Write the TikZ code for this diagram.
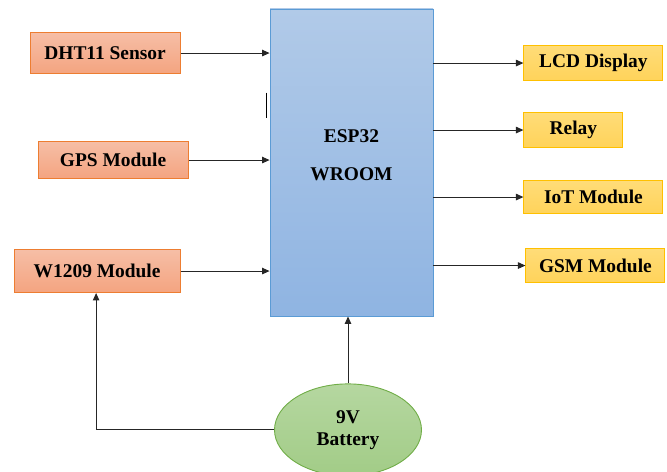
\documentclass[tikz,border=0pt]{standalone}
\usepackage{fontspec}
\setmainfont{Liberation Serif}
\usepackage{tikz}
\usetikzlibrary{arrows.meta,positioning,calc,shapes.geometric}
\usepackage{xcolor}
\definecolor{sensororange}{HTML}{ED7D31}
\definecolor{sensortop}{HTML}{F6BEA6}
\definecolor{sensorbot}{HTML}{F4A480}
\definecolor{outgold}{HTML}{FFC000}
\definecolor{outtop}{HTML}{FFDC78}
\definecolor{outbot}{HTML}{FFD35A}
\definecolor{espblue}{HTML}{5B9BD5}
\definecolor{esptop}{HTML}{B1CAE8}
\definecolor{espbot}{HTML}{8FB4E2}
\definecolor{battgreen}{HTML}{70AD47}
\definecolor{batttop}{HTML}{B5D7A0}
\definecolor{battbot}{HTML}{A2CC87}

\begin{document}
\begin{tikzpicture}[
  x=1bp, y=-1bp,
  inblock/.style={draw=sensororange, rectangle, top color=sensortop, bottom color=sensorbot,
                  minimum width=150bp, inner sep=0pt, line width=0.9bp,
                  font=\fontsize{19.5}{22}\selectfont\bfseries},
  outblock/.style={draw=outgold, rectangle, top color=outtop, bottom color=outbot,
                   minimum width=139bp, minimum height=35bp, inner sep=0pt, line width=0.9bp,
                   font=\fontsize{19.5}{22}\selectfont\bfseries},
  arr/.style={-{Triangle[length=7.5bp,width=6.5bp]}, line width=1bp, black!85},
  node distance=89bp
]
  \useasboundingbox (0,0) rectangle (667,472);

  %% Controller
  \node[draw=espblue, rectangle, top color=esptop, bottom color=espbot, line width=0.9bp,
        minimum width=163bp, minimum height=307bp, inner sep=0pt] (esp) at (351.5,162.5) {};
  \node[font=\fontsize{19.5}{22}\selectfont\bfseries, align=center] (esptext)
    at ($(esp.center)+(0,-7)$) {ESP32\\[16bp]WROOM};
  \draw[line width=1bp] ($(esp.north west)+(-3,84)$) -- ++(0,25);

  %% Inputs
  \node[inblock, minimum height=41bp, left=89bp of {$(esp.north west)+(0,44.5)$}] (dht)
    {DHT11 Sensor};
  \node[inblock, minimum height=37bp, left=81bp of {$(esp.north west)+(0,151.5)$}] (gps)
    {GPS Module};
  \node[inblock, minimum width=166bp, minimum height=43bp,
        left=89bp of {$(esp.north west)+(0,262.5)$}] (w1209)
    {W1209 Module};

  %% Outputs
  \node[outblock, right=90bp of {$(esp.north east)+(0,54.5)$}] (lcd) {LCD Display};
  \node[outblock, minimum width=99bp, right=90bp of {$(esp.north east)+(0,121.5)$}] (relay) {Relay};
  \node[outblock, minimum height=33bp, right=90bp of {$(esp.north east)+(0,188.5)$}] (iot) {IoT Module};
  \node[outblock, minimum height=34bp, right=92bp of {$(esp.north east)+(0,257)$}] (gsm) {GSM Module};

  %% Supply
  \node[draw=battgreen, ellipse, top color=batttop, bottom color=battbot, line width=0.9bp,
        minimum width=147bp, minimum height=92bp, inner sep=0pt, align=center,
        font=\fontsize{19.5}{22}\selectfont\bfseries,
        below=67bp of {$(esp.south)+(-3.5,0)$}] (batt)
    {9V\\Battery};

  %% Arrows
  \draw[arr] (dht) -- (dht -| esp.west);
  \draw[arr] (gps) -- (gps -| esp.west);
  \draw[arr] (w1209) -- (w1209 -| esp.west);
  \draw[arr] (lcd -| esp.east) -- (lcd);
  \draw[arr] (relay -| esp.east) -- (relay);
  \draw[arr] (iot -| esp.east) -- (iot);
  \draw[arr] (gsm -| esp.east) -- (gsm);
  \draw[arr] (batt.north) -- (batt.north |- esp.south);
  \draw[arr] (batt.west) -| ($(w1209.south)+(-1,0)$);
\end{tikzpicture}
\end{document}
